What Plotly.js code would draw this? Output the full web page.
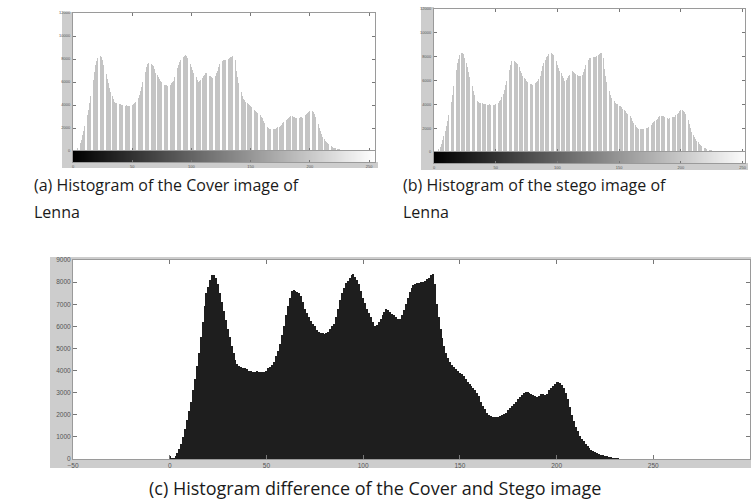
<!DOCTYPE html>
<html>
<head>
<meta charset="utf-8">
<script src="https://cdn.plot.ly/plotly-3.0.1.min.js"></script>
<style>html,body{margin:0;padding:0;background:#fff;}#chart{width:751px;height:504px;}</style>
</head>
<body>
<div id="chart"></div>
<script>
// Histogram counts per gray level 0..255
const coverCounts = [
 150,40,60,120,250,450,700,1000,1350,1750,2150,2600,3100,3600,4200,4800,
 5500,6200,6900,7500,7800,8100,8300,8300,8200,7900,7500,7100,6700,6300,5900,5500,
 5100,4800,4500,4300,4200,4150,4100,4100,4050,4000,4000,3950,3950,4000,3950,3950,
 3950,3950,4000,4100,4150,4250,4400,4650,4900,5200,5600,6000,6500,6900,7300,7600,
 7650,7600,7550,7500,7350,7100,6800,6600,6400,6250,6100,6000,5850,5750,5700,5700,
 5650,5700,5750,5900,6000,6100,6400,6800,7200,7500,7750,7950,8050,8200,8300,8350,
 8250,8100,7900,7600,7300,7050,6800,6600,6400,6200,6000,6050,6200,6350,6500,6650,
 6800,6750,6650,6550,6500,6400,6350,6350,6500,6750,7000,7300,7550,7750,7850,7900,
 7950,7950,8000,8000,8050,8150,8200,8300,8350,7900,7000,6400,5900,5450,5100,4800,
 4550,4400,4250,4150,4050,4000,3900,3850,3750,3600,3500,3400,3300,3200,3100,3000,
 2850,2600,2400,2250,2100,2000,1950,1900,1900,1900,1900,1950,2000,2050,2100,2200,
 2300,2400,2500,2600,2700,2800,2900,3000,3050,3050,3000,2950,2900,2850,2800,2850,
 2950,2950,2900,2950,3100,3200,3300,3400,3500,3500,3450,3350,3200,3000,2700,2350,
 2000,1700,1450,1250,1050,900,800,700,600,500,420,360,300,250,220,190,
 170,140,120,100,80,60,50,40,30,20,10,5,0,0,0,0,
 0,0,0,0,0,0,0,0,0,0,0,0,0,0,0,0
];
const stegoCounts = [
 150,40,60,120,250,450,700,1000,1350,1750,2150,2600,3100,3600,4200,4800,
 5500,6200,6900,7500,7800,8100,8300,8300,8200,7900,7500,7100,6700,6300,5900,5500,
 5100,4800,4500,4300,4200,4150,4100,4100,4050,4000,4000,3950,3950,4000,3950,3950,
 3950,3950,4000,4100,4150,4250,4400,4650,4900,5200,5600,6000,6500,6900,7300,7600,
 7650,7600,7550,7500,7350,7100,6800,6600,6400,6250,6100,6000,5850,5750,5700,5700,
 5650,5700,5750,5900,6000,6100,6400,6800,7200,7500,7750,7950,8050,8200,8300,8350,
 8250,8100,7900,7600,7300,7050,6800,6600,6400,6200,6000,6050,6200,6350,6500,6650,
 6800,6750,6650,6550,6500,6400,6350,6350,6500,6750,7000,7300,7550,7750,7850,7900,
 7950,7950,8000,8000,8050,8150,8200,8300,8350,7900,7000,6400,5900,5450,5100,4800,
 4550,4400,4250,4150,4050,4000,3900,3850,3750,3600,3500,3400,3300,3200,3100,3000,
 2850,2600,2400,2250,2100,2000,1950,1900,1900,1900,1900,1950,2000,2050,2100,2200,
 2300,2400,2500,2600,2700,2800,2900,3000,3050,3050,3000,2950,2900,2850,2800,2850,
 2950,2950,2900,2950,3100,3200,3300,3400,3500,3500,3450,3350,3200,3000,2700,2350,
 2000,1700,1450,1250,1050,900,800,700,600,500,420,360,300,250,220,190,
 170,140,120,100,80,60,50,40,30,20,10,5,0,0,0,0,
 0,0,0,0,0,0,0,0,0,0,0,0,0,0,0,0
];
// panel (c) shows the same histogram drawn in black
const diffCounts = coverCounts;

const grayRange = [0, 255];           // colour-bar end points (gray levels)
const grayGradient = [[0, 255]];
const smallTicksAB = [0, 2000, 4000, 6000, 8000, 10000, 12000];
const xTicksAB = [0, 50, 100, 150, 200, 250];
const yTicksC = [0, 1000, 2000, 3000, 4000, 5000, 6000, 7000, 8000, 9000];
const xTicksC = [-50, 0, 50, 100, 150, 200, 250, 300];

const captionA1 = "(a) Histogram of the Cover image of";
const captionB1 = "(b) Histogram of the stego image of";
const captionLenna = "Lenna";
const captionC = "(c) Histogram difference of the Cover and Stego image";

const W = 751, H = 504;
const px = v => v / W;
const py = v => 1 - v / H;

const tickFontTiny = {family: "Liberation Sans", size: 4, color: "#555"};
const tickFontSmall = {family: "Liberation Sans", size: 6.5, color: "#555"};
const capFont = {family: "Open Sans", size: 16, color: "#1a1a1a"};
const capFontC = {family: "Open Sans", size: 18, color: "#1a1a1a"};
const frame = "#cdcdcd";

const traces = [
  {type: "bar", y: coverCounts, x0: 0, dx: 1, width: 0.72, xaxis: "x", yaxis: "y",
   marker: {color: "#c4c4c4", line: {width: 0}}, hoverinfo: "skip"},
  {type: "heatmap", z: grayGradient, x: grayRange, xaxis: "x2", yaxis: "y2",
   colorscale: [[0, "#000"], [1, "#fff"]], zsmooth: "best", showscale: false, hoverinfo: "skip"},
  {type: "bar", y: stegoCounts, x0: 0, dx: 1, width: 0.72, xaxis: "x3", yaxis: "y3",
   marker: {color: "#c4c4c4", line: {width: 0}}, hoverinfo: "skip"},
  {type: "heatmap", z: grayGradient, x: grayRange, xaxis: "x4", yaxis: "y4",
   colorscale: [[0, "#000"], [1, "#fff"]], zsmooth: "best", showscale: false, hoverinfo: "skip"},
  {type: "bar", y: diffCounts, x0: 0, dx: 1, width: 1.02, xaxis: "x5", yaxis: "y5",
   marker: {color: "#1e1e1e", line: {width: 0}}, hoverinfo: "skip"}
];

const axBase = {showgrid: false, zeroline: false, showline: true, linecolor: "#9a9a9a", linewidth: 1,
  ticks: "inside", ticklen: 3, tickcolor: "#777", fixedrange: true, tickformat: "d"};

const layout = {
  width: W, height: H,
  margin: {l: 0, r: 0, t: 0, b: 0},
  paper_bgcolor: "#fff", plot_bgcolor: "#fff",
  showlegend: false, bargap: 0,
  // (a)
  xaxis: Object.assign({}, axBase, {domain: [px(73), px(375)], range: [0, 255], anchor: "y",
    showticklabels: false, mirror: "ticks", tickvals: xTicksAB}),
  yaxis: Object.assign({}, axBase, {domain: [py(151), py(13)], range: [0, 12000], anchor: "x",
    mirror: "ticks", tickvals: smallTicksAB, tickfont: tickFontTiny, ticklabelstandoff: 1}),
  xaxis2: Object.assign({}, axBase, {domain: [px(73), px(375)], range: [0, 255], anchor: "y2",
    tickvals: xTicksAB, tickfont: tickFontTiny, ticklen: 2, mirror: true}),
  yaxis2: Object.assign({}, axBase, {domain: [py(162), py(151)], range: [-0.5, 0.5], anchor: "x2",
    showticklabels: false, ticks: "", mirror: true}),
  // (b)
  xaxis3: Object.assign({}, axBase, {domain: [px(434), px(745)], range: [0, 252], anchor: "y3",
    showticklabels: false, mirror: "ticks", tickvals: xTicksAB}),
  yaxis3: Object.assign({}, axBase, {domain: [py(152), py(9)], range: [0, 12000], anchor: "x3",
    mirror: "ticks", tickvals: smallTicksAB, tickfont: tickFontTiny, ticklabelstandoff: 1}),
  xaxis4: Object.assign({}, axBase, {domain: [px(434), px(745)], range: [0, 252], anchor: "y4",
    tickvals: xTicksAB, tickfont: tickFontTiny, ticklen: 2, mirror: true}),
  yaxis4: Object.assign({}, axBase, {domain: [py(163), py(152)], range: [-0.5, 0.5], anchor: "x4",
    showticklabels: false, ticks: "", mirror: true}),
  // (c)
  xaxis5: Object.assign({}, axBase, {domain: [px(73), px(750)], range: [-50, 300], anchor: "y5",
    mirror: "ticks", tickvals: xTicksC, tickfont: tickFontSmall, ticklen: 4}),
  yaxis5: Object.assign({}, axBase, {domain: [py(459), py(260)], range: [0, 9000], anchor: "x5",
    mirror: "ticks", tickvals: yTicksC, tickfont: tickFontSmall, ticklen: 4}),
  shapes: [
    {type: "rect", xref: "paper", yref: "paper", x0: px(62), x1: px(73), y0: py(168), y1: py(12),
     fillcolor: frame, line: {width: 0}, layer: "below"},
    {type: "rect", xref: "paper", yref: "paper", x0: px(62), x1: px(378), y0: py(168), y1: py(162),
     fillcolor: frame, line: {width: 0}, layer: "below"},
    {type: "rect", xref: "paper", yref: "paper", x0: px(421), x1: px(434), y0: py(170), y1: py(7),
     fillcolor: frame, line: {width: 0}, layer: "below"},
    {type: "rect", xref: "paper", yref: "paper", x0: px(421), x1: px(748), y0: py(170), y1: py(163),
     fillcolor: frame, line: {width: 0}, layer: "below"},
    {type: "rect", xref: "paper", yref: "paper", x0: px(50), x1: px(73), y0: py(468), y1: py(257),
     fillcolor: frame, line: {width: 0}, layer: "below"},
    {type: "rect", xref: "paper", yref: "paper", x0: px(50), x1: px(751), y0: py(468), y1: py(459),
     fillcolor: frame, line: {width: 0}, layer: "below"},
    {type: "rect", xref: "paper", yref: "paper", x0: px(50), x1: px(751), y0: py(260), y1: py(257),
     fillcolor: frame, line: {width: 0}, layer: "below"}
  ],
  annotations: [
    {xref: "paper", yref: "paper", x: px(32), y: py(185), xanchor: "left", yanchor: "middle",
     text: captionA1, showarrow: false, font: capFont},
    {xref: "paper", yref: "paper", x: px(32), y: py(212), xanchor: "left", yanchor: "middle",
     text: captionLenna, showarrow: false, font: capFont},
    {xref: "paper", yref: "paper", x: px(401), y: py(185), xanchor: "left", yanchor: "middle",
     text: captionB1, showarrow: false, font: capFont},
    {xref: "paper", yref: "paper", x: px(401), y: py(212), xanchor: "left", yanchor: "middle",
     text: captionLenna, showarrow: false, font: capFont},
    {xref: "paper", yref: "paper", x: px(375), y: py(488), xanchor: "center", yanchor: "middle",
     text: captionC, showarrow: false, font: capFontC}
  ]
};

Plotly.newPlot("chart", traces, layout, {staticPlot: true, displayModeBar: false});
</script>
</body>
</html>
